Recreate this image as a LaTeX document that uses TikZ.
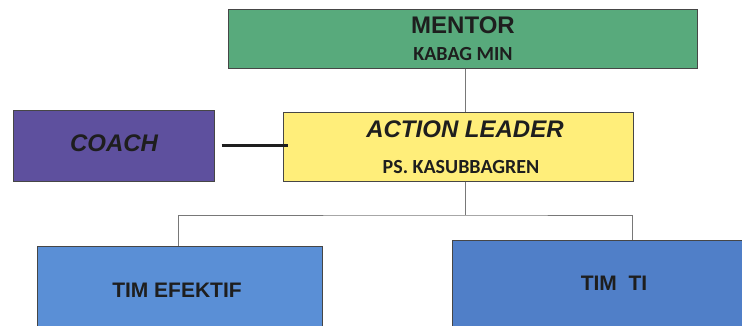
\documentclass[tikz,border=0pt]{standalone}
\usepackage{fontspec}
\setmainfont{Liberation Sans}
\newfontfamily\calibfont{Carlito}
\usepackage{xcolor}
\usetikzlibrary{positioning}
\definecolor{mentorgreen}{RGB}{88,170,124}
\definecolor{coachpurple}{RGB}{94,80,158}
\definecolor{leaderyellow}{RGB}{255,238,122}
\definecolor{teamblue}{RGB}{90,143,214}
\definecolor{teamblue2}{RGB}{80,127,200}
\definecolor{boxedge}{RGB}{70,70,70}
\definecolor{linkgray}{RGB}{120,120,120}
\definecolor{inkdark}{RGB}{30,30,30}
\tikzset{
  orgbox/.style={draw=boxedge,line width=1pt,inner sep=0pt},
  title/.style={anchor=base,inner sep=0pt,text=inkdark,font=\fontsize{24}{28}\selectfont\bfseries},
  subtitle/.style={anchor=base,inner sep=0pt,text=inkdark,font=\calibfont\fontsize{20}{24}\selectfont\bfseries},
  teamtext/.style={anchor=base,inner sep=0pt,text=inkdark,font=\fontsize{21}{25}\selectfont\bfseries},
  link/.style={draw=linkgray,line width=1pt},
  tie/.style={draw=inkdark,line width=2.2pt}
}
\begin{document}
\begin{tikzpicture}[x=1pt,y=-1pt]
\useasboundingbox[fill=white] (0,0) rectangle (742,325);
% boxes
\node[orgbox,fill=mentorgreen,minimum width=469pt,minimum height=59pt] (mentor) at (462.5,38.5) {};
\node[orgbox,fill=coachpurple,minimum width=201pt,minimum height=71pt] (coach) at (113.5,145.5) {};
\node[orgbox,fill=leaderyellow,minimum width=350pt,minimum height=69pt] (leader) at (458,146.5) {};
\node[orgbox,fill=teamblue,minimum width=285pt,minimum height=90pt] (efektif) at (179.5,291) {};
\node[orgbox,fill=teamblue2,minimum width=296pt,minimum height=95pt] (timti) at (600,287.5) {};
% texts
\node[title] (mentor-title) at (463,33) {MENTOR};
\node[subtitle] (mentor-sub) at (463,60) {KABAG MIN};
\node[title,font=\fontsize{24}{28}\selectfont\bfseries\itshape] (coach-title) at (114,151) {COACH};
\node[title,font=\fontsize{24}{28}\selectfont\bfseries\itshape] (leader-title) at (465,137) {ACTION LEADER};
\node[subtitle] (leader-sub) at (461,173) {PS. KASUBBAGREN};
\node[teamtext] (efektif-title) at (177,297) {TIM EFEKTIF};
\node[teamtext] (timti-title) at (614,290) {TIM\ \ TI};
% connectors
\coordinate (stem) at (465,0);
\coordinate (bus) at (465,215);
\coordinate (dropL) at (178,0);
\coordinate (dropR) at (632,0);
\draw[link] (mentor.south -| stem) -- (leader.north -| stem);
\draw[link] (leader.south -| stem) -- (bus);
\draw[link] (efektif.north -| dropL) |- (bus) -| (timti.north -| dropR);
\draw[tie] ([xshift=7pt]coach.east) -- ([xshift=5pt]coach.east -| leader.west);
\end{tikzpicture}
\end{document}
